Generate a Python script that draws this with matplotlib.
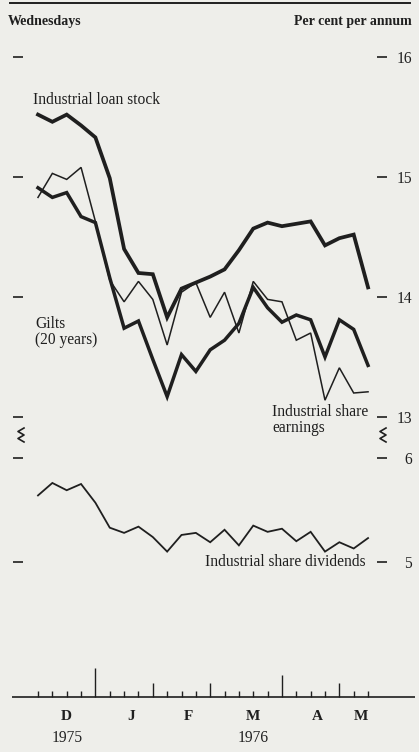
import numpy as np
import matplotlib.pyplot as plt
from matplotlib.lines import Line2D

# Wednesday observations, Dec 1975 - May 1976
wednesdays = ['1975-12-03', '1975-12-10', '1975-12-17', '1975-12-24', '1975-12-31',
              '1976-01-07', '1976-01-14', '1976-01-21', '1976-01-28',
              '1976-02-04', '1976-02-11', '1976-02-18', '1976-02-25',
              '1976-03-03', '1976-03-10', '1976-03-17', '1976-03-24', '1976-03-31',
              '1976-04-07', '1976-04-14', '1976-04-21', '1976-04-28',
              '1976-05-05', '1976-05-12']

# per cent per annum
loan_stock = [15.52, 15.46, 15.52, 15.43, 15.33, 14.99, 14.40, 14.20, 14.19, 13.83,
              14.07, 14.12, 14.17, 14.23, 14.39, 14.57, 14.62, 14.59, 14.61, 14.63,
              14.43, 14.49, 14.52, 14.08]
gilts = [14.91, 14.83, 14.87, 14.67, 14.62, 14.16, 13.74, 13.80, 13.48, 13.17,
         13.52, 13.38, 13.56, 13.64, 13.78, 14.08, 13.91, 13.79, 13.85, 13.81,
         13.50, 13.81, 13.73, 13.43]
share_earnings = [14.83, 15.03, 14.98, 15.08, 14.63, 14.14, 13.96, 14.13, 13.98, 13.60,
                  14.04, 14.12, 13.83, 14.04, 13.70, 14.13, 13.98, 13.96, 13.64, 13.70,
                  13.14, 13.41, 13.20, 13.21]
share_dividends = [5.64, 5.76, 5.69, 5.75, 5.57, 5.33, 5.28, 5.34, 5.24, 5.10,
                   5.26, 5.28, 5.19, 5.31, 5.16, 5.35, 5.29, 5.32, 5.20, 5.29,
                   5.10, 5.19, 5.13, 5.23]

upper_ticks = [13, 14, 15, 16]
lower_ticks = [5, 6]
month_letters = ['D', 'J', 'F', 'M', 'A', 'M']
year_labels = ['1975', '1976']

plt.rcParams['font.family'] = ['Liberation Serif', 'DejaVu Serif']
bg = '#eeeeea'
ink = '#1f1f1f'

W, H = 419, 752
X0, DX = 38, 14.35  # pixel of first Wednesday, pixels per week


def fbox(x0, y0, x1, y1):
    return [x0 / W, 1 - y1 / H, (x1 - x0) / W, (y1 - y0) / H]


def ftext(px, py, s, **kw):
    kw.setdefault('fontsize', 11.2)
    kw.setdefault('color', ink)
    kw.setdefault('va', 'center')
    fig.text(px / W, 1 - py / H, s, **kw)


def xlims(p0, p1):
    return ((p0 - X0) / DX, (p1 - X0) / DX)


dates = np.array(wednesdays, dtype='datetime64[D]')
months = dates.astype('datetime64[M]')
month_num = months.astype(int) % 12 + 1
x = np.arange(len(dates))

fig = plt.figure(figsize=(W / 100, H / 100), dpi=100, facecolor=bg)


def style_axis(ax, ticks):
    ax.set_facecolor('none')
    for s in ax.spines.values():
        s.set_visible(False)
    ax.set_xticks([])
    ax.set_yticks(ticks)
    ax.set_yticklabels([str(t) for t in ticks])
    ax.tick_params(axis='y', left=True, right=True, labelleft=False, labelright=True,
                   direction='out', length=7.2, width=1.2, color=ink, pad=18,
                   labelsize=11.2, labelcolor=ink)
    for t in ax.yaxis.get_major_ticks():
        t.label2.set_horizontalalignment('right')


# upper panel: 120 px per point, 16 at y=57
ax = fig.add_axes(fbox(23, 45, 377, 425))
ax.set_xlim(*xlims(23, 377))
ax.set_ylim(16 - (425 - 57) / 120, 16 + (57 - 45) / 120)
ax.plot(x, share_earnings, color=ink, lw=1.1, solid_joinstyle='miter')
ax.plot(x, gilts, color=ink, lw=2.5, solid_joinstyle='miter')
ax.plot(x, loan_stock, color=ink, lw=2.7, solid_joinstyle='miter')
style_axis(ax, upper_ticks)

# lower panel: 104 px per point, 6 at y=458
ax2 = fig.add_axes(fbox(23, 445, 377, 600))
ax2.set_xlim(*xlims(23, 377))
ax2.set_ylim(6 - (600 - 458) / 104, 6 + (458 - 445) / 104)
ax2.plot(x, share_dividends, color=ink, lw=1.3, solid_joinstyle='miter')
style_axis(ax2, lower_ticks)

# scale break marks
for cx in (21, 383):
    zx = [cx + 3, cx - 3, cx + 3, cx - 3, cx + 3]
    zy = [428, 431.5, 435, 438.5, 442]
    fig.add_artist(Line2D([v / W for v in zx], [1 - v / H for v in zy],
                          color=ink, lw=1.2))

# top rule
fig.add_artist(Line2D([10 / W, 410 / W], [1 - 3 / H] * 2, color=ink, lw=1.4))

# time axis: y in pixels above the baseline at y=697
axt = fig.add_axes(fbox(0, 660, 419, 750))
axt.set_xlim(*xlims(0, 419))
axt.set_ylim(697 - 750, 697 - 660)
axt.axis('off')
axt.hlines(0, *xlims(12, 415), color=ink, lw=1.2)
month_end = np.append(months[1:] != months[:-1], False)
heights = np.where(month_end, 14, 6)
heights = np.where(month_end & (month_num == 3), 22, heights)
heights = np.where(month_end & (month_num == 12), 29, heights)
axt.vlines(x, 0, heights, color=ink, lw=1.0)

uniq = list(dict.fromkeys(months.tolist()))
for letter, m in zip(month_letters, uniq):
    pos = x[months == np.datetime64(m, 'M')].mean()
    axt.text(pos, -20, letter, ha='center', va='center', fontsize=11,
             fontweight='bold', color=ink)
    if month_num[months == np.datetime64(m, 'M')][0] == 12:
        axt.text(pos, -41, year_labels[0], ha='center', va='center',
                 fontsize=11.2, color=ink)
    if m == uniq[3]:
        axt.text(pos, -41, year_labels[1], ha='center', va='center',
                 fontsize=11.2, color=ink)

# labels
ftext(8, 22, 'Wednesdays', fontweight='bold', fontsize=10)
ftext(412, 22, 'Per cent per annum', ha='right', fontweight='bold', fontsize=10)
ftext(33, 100, 'Industrial loan stock')
ftext(35, 332, 'Gilts\n(20 years)', linespacing=1.0)
ftext(272, 420, 'Industrial share\nearnings', linespacing=0.95)
ftext(205, 562, 'Industrial share dividends')

fig.savefig('out.png', dpi=100, facecolor=bg)
